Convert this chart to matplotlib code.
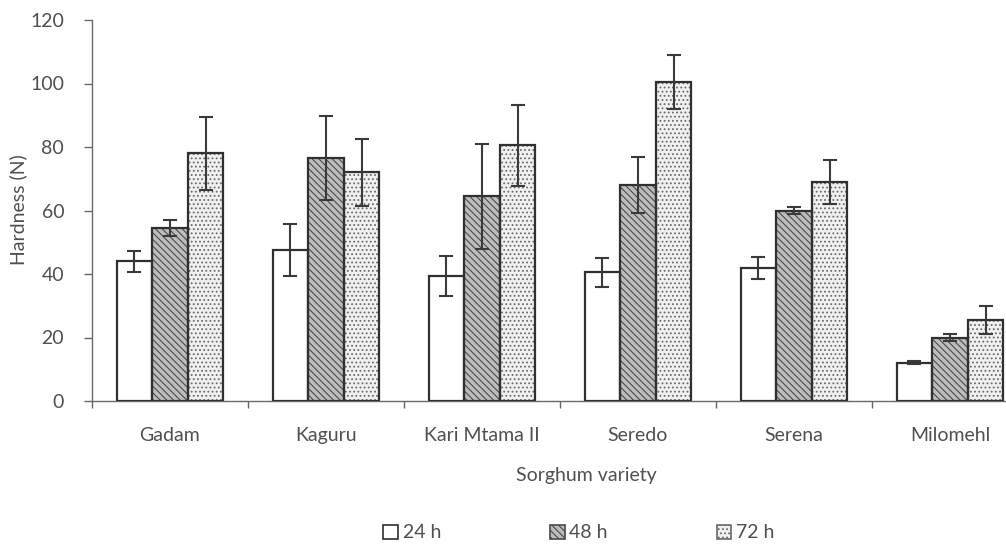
import matplotlib
matplotlib.use("Agg")
import matplotlib.pyplot as plt
from matplotlib.patches import Patch
import numpy as np

varieties = ["Gadam", "Kaguru", "Kari Mtama II", "Seredo", "Serena", "Milomehl"]
series_labels = ["24 h", "48 h", "72 h"]

hardness_24h = [44.0, 47.5, 39.5, 40.5, 42.0, 12.0]
hardness_48h = [54.5, 76.5, 64.5, 68.0, 60.0, 20.0]
hardness_72h = [78.0, 72.0, 80.5, 100.5, 69.0, 25.5]

err_24h = [3.4, 8.2, 6.3, 4.5, 3.5, 0.5]
err_48h = [2.5, 13.2, 16.5, 8.7, 1.2, 1.0]
err_72h = [11.5, 10.5, 12.8, 8.6, 7.0, 4.5]

yticks = [0, 20, 40, 60, 80, 100, 120]

plt.rcParams["font.family"] = ["Lato", "DejaVu Sans"]
plt.rcParams["hatch.linewidth"] = 0.8

text_col = "#505050"
edge_col = "#303030"
fs = 14

fig = plt.figure(figsize=(10.06, 5.44), dpi=100)
ax = fig.add_axes([92 / 1006, 1 - 401 / 544, (1028 - 92) / 1006, (401 - 20) / 544])

x = np.arange(len(varieties))
w = 0.228

styles = [
    dict(face="white", hatch=None, hcol=None),
    dict(face="#bdbdbd", hatch="\\\\\\\\\\", hcol="#4a4a4a"),
    dict(face="#f0f0f0", hatch="....", hcol="#6a6a6a"),
]
values = [hardness_24h, hardness_48h, hardness_72h]
errors = [err_24h, err_48h, err_72h]

handles = []
for i, (vals, errs, st) in enumerate(zip(values, errors, styles)):
    pos = x + (i - 1) * w
    if st["hatch"]:
        # fill layer carrying the hatch pattern
        ax.bar(pos, vals, w, color=st["face"], edgecolor=st["hcol"],
               hatch=st["hatch"], linewidth=0, zorder=2)
    else:
        ax.bar(pos, vals, w, color=st["face"], linewidth=0, zorder=2)
    # outline layer
    ax.bar(pos, vals, w, fill=False, edgecolor=edge_col, linewidth=1.6, zorder=3)
    ax.errorbar(pos, vals, yerr=errs, fmt="none", ecolor="#3a3a3a",
                elinewidth=1.5, capsize=5, capthick=1.5, zorder=4)
    handles.append(Patch(facecolor=st["face"],
                         edgecolor=edge_col if st["hatch"] is None else st["hcol"],
                         hatch=st["hatch"], linewidth=1.2, label=series_labels[i]))

ax.set_xlim(-0.5, len(varieties) - 0.5)
ax.set_ylim(0, 120)
ax.set_yticks(yticks)
ax.set_yticklabels([str(t) for t in yticks])
ax.set_xticks(np.arange(len(varieties) + 1) - 0.5)
ax.set_xticklabels([])
ax.set_xticks(x, minor=True)
ax.set_xticklabels(varieties, minor=True)
ax.tick_params(axis="x", which="minor", length=0, pad=19, labelsize=fs, labelcolor=text_col)
ax.tick_params(axis="x", which="major", length=5, width=1, color="#666666")
ax.tick_params(axis="y", length=6, width=1, color="#666666", pad=14,
               labelsize=fs, labelcolor=text_col)

for s in ["top", "right"]:
    ax.spines[s].set_visible(False)
for s in ["left", "bottom"]:
    ax.spines[s].set_color("#6a6a6a")
    ax.spines[s].set_linewidth(1.0)

fig.text(18 / 1006, 1 - 210 / 544, "Hardness (N)", rotation=90, ha="center",
         va="center", fontsize=fs, color=text_col)
fig.text(586 / 1006, 1 - 476 / 544, "Sorghum variety", ha="center", va="center",
         fontsize=fs, color=text_col)

fig.legend(handles=handles, loc="center", bbox_to_anchor=(579 / 1006, 1 - 533 / 544),
           ncol=3, frameon=False, fontsize=fs, labelcolor=text_col,
           handlelength=0.75, handleheight=0.75, handletextpad=0.25,
           columnspacing=5.6, borderpad=0)

fig.savefig("out.png", dpi=100, facecolor="white")
